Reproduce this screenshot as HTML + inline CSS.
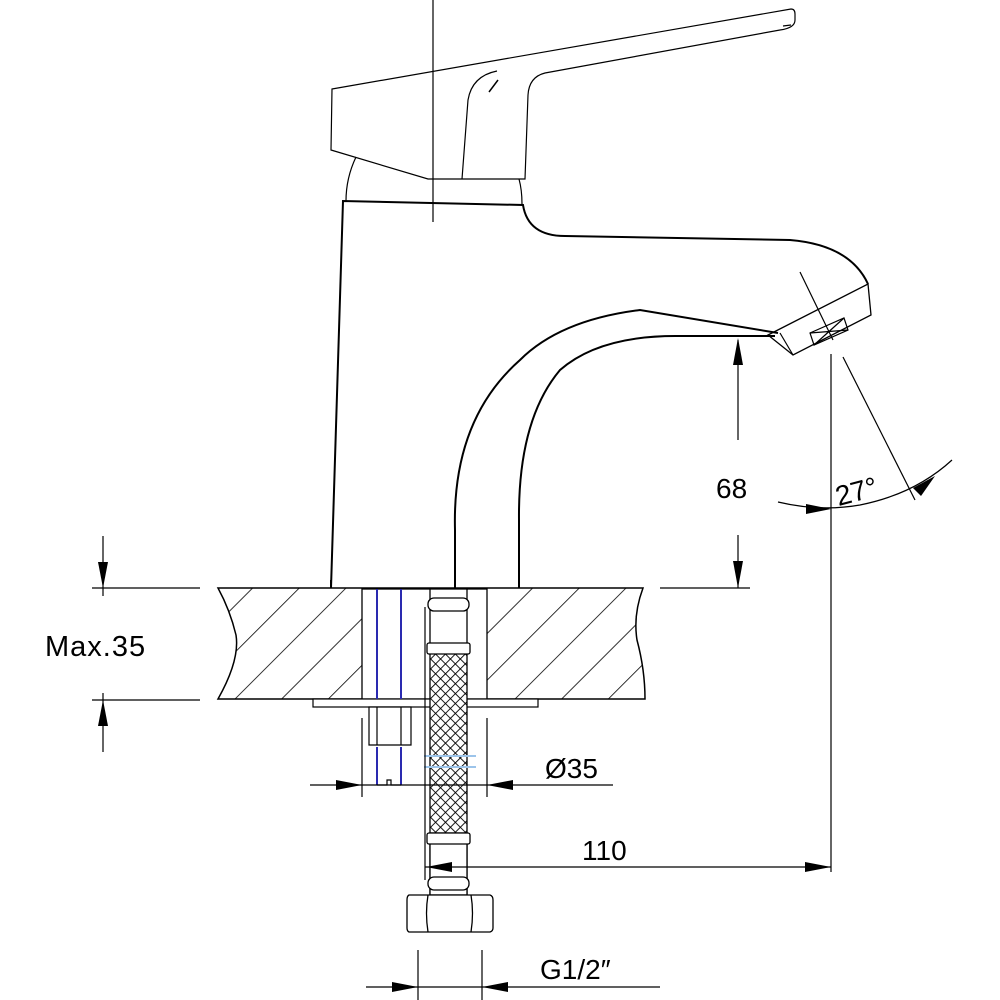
<!DOCTYPE html>
<html><head><meta charset="utf-8"><style>html,body{margin:0;padding:0;background:#fff}svg{display:block}text{font-family:"Liberation Sans",sans-serif;fill:#000}</style></head>
<body>
<svg width="1000" height="1000" viewBox="0 0 1000 1000" xmlns="http://www.w3.org/2000/svg">
<defs>
<pattern id="hatch" patternUnits="userSpaceOnUse" width="33" height="33" patternTransform="rotate(45)">
<line x1="0" y1="0" x2="0" y2="33" stroke="#000" stroke-width="1.6"/>
</pattern>
<pattern id="mesh" patternUnits="userSpaceOnUse" width="7" height="7" patternTransform="rotate(45)">
<rect width="7" height="7" fill="#fff"/>
<line x1="0" y1="0" x2="7" y2="0" stroke="#000" stroke-width="1.8"/>
<line x1="0" y1="0" x2="0" y2="7" stroke="#000" stroke-width="1.8"/>
</pattern>
</defs>
<g fill="none" stroke="#000" stroke-width="1.2">
<path d="M332,89 L791,9 Q795,9 795,14 L795,20 Q795,28 780,30 L545,73 Q529,77 528,95 L525,179 L428,179 L331,150 Z"/>
<path d="M462,179 L468,100 Q472,76 497,71"/>
<path d="M489,92 L498,80" stroke-width="1.5"/>
<path d="M791,25 L783,26"/>
<path d="M356,157 Q346,178 346,201"/>
<path d="M519,179 Q522,190 522,204"/>
</g>
<g fill="none" stroke="#000" stroke-width="2">
<path d="M331,588 L343,201 L523,205 Q528,236 565,236 L790,240 Q850,245 868,284"/>
<path d="M455,588 L455,530 Q452,420 520,360 Q560,320 640,310 L778,333"/>
<path d="M519,588 L519,520 Q518,420 560,370 Q600,335 680,336 L775,336"/>
</g>
<g fill="none" stroke="#000" stroke-width="1.2">
<path d="M768,335 L868,284 L871,315 L793,355 Z" stroke-width="1.3"/>
<path d="M780,333 L793,355"/>
<path d="M810,333 L844,318 L848,330 L814,345 Z"/>
<path d="M810,333 L848,330 M844,318 L814,345"/>
<path d="M800,272 L833,340"/>
<line x1="433" y1="0" x2="433" y2="222"/>
<line x1="831" y1="354" x2="831" y2="872"/>
<line x1="843" y1="357" x2="915" y2="500"/>
<path d="M778,502 Q820,512 860,505 Q915,494 952,460"/>
</g>
<g fill="#000">
<polygon points="831,509 806,504 806,514"/>
<polygon points="935,476 913,488 921,496"/>
</g>
<text x="835" y="500" font-size="28" transform="rotate(-15 860 490)">27°</text>
<g stroke="#000" stroke-width="1.2">
<line x1="738" y1="340" x2="738" y2="440"/>
<line x1="738" y1="535" x2="738" y2="588"/>
<line x1="660" y1="588" x2="750" y2="588"/>
<line x1="727" y1="336" x2="760" y2="336"/>
</g>
<polygon points="738,338 733,365 743,365" fill="#000"/>
<polygon points="738,588 733,561 743,561" fill="#000"/>
<text x="716" y="498" font-size="28">68</text>
<path d="M218,588 L643,588 Q633,615 637,640 Q645,670 645,699 L218,699 Q240,660 236,635 Q230,610 218,588 Z" fill="url(#hatch)" stroke="#000" stroke-width="1.5"/>
<rect x="362" y="589" width="125" height="110" fill="#fff" stroke="#000" stroke-width="1.3"/>
<rect x="313" y="699" width="225" height="8" fill="#fff" stroke="#000" stroke-width="1.2"/>
<line x1="331" y1="580" x2="331" y2="588" stroke="#000" stroke-width="2"/>
<g stroke="#2a2ab0" stroke-width="2">
<line x1="377" y1="589" x2="377" y2="699"/>
<line x1="401" y1="589" x2="401" y2="699"/>
<line x1="377" y1="747" x2="377" y2="785"/>
<line x1="401" y1="747" x2="401" y2="785"/>
</g>
<path d="M377,785 L387,785 L387,780 L391,780 L391,785 L401,785" fill="none" stroke="#000" stroke-width="1.2"/>
<path d="M369,707 L411,707 L411,745 L369,745 Z M377,707 L377,745 M401,707 L401,745" fill="#fff" stroke="#000" stroke-width="1.2"/>
<rect x="430" y="653" width="37" height="254" fill="url(#mesh)" stroke="#000" stroke-width="1.3"/>
<rect x="430" y="589" width="37" height="64" fill="#fff" stroke="#000" stroke-width="1.3"/>
<rect x="428" y="598" width="41" height="13" rx="6" fill="#fff" stroke="#000" stroke-width="1.3"/>
<rect x="427" y="643" width="43" height="11" rx="2" fill="#fff" stroke="#000" stroke-width="1.3"/>
<rect x="430" y="833" width="37" height="62" fill="#fff" stroke="#000" stroke-width="1.3"/>
<rect x="427" y="833" width="43" height="11" rx="2" fill="#fff" stroke="#000" stroke-width="1.3"/>
<rect x="428" y="877" width="41" height="13" rx="6" fill="#fff" stroke="#000" stroke-width="1.3"/>
<line x1="424" y1="756" x2="476" y2="756" stroke="#9cc4ea" stroke-width="2"/>
<line x1="424" y1="767" x2="476" y2="767" stroke="#9cc4ea" stroke-width="2"/>
<line x1="425" y1="607" x2="425" y2="880" stroke="#000" stroke-width="1.2"/>
<path d="M409,895 L490,895 Q493,896 493,900 L493,928 Q493,931 490,932 L409,932 Q407,931 407,928 L407,900 Q407,896 409,895 Z M428,895 Q425,913 428,932 M471,895 Q474,913 471,932 M428,895 L471,895 M428,932 L471,932" fill="#fff" stroke="#000" stroke-width="1.3"/>
<g stroke="#000" stroke-width="1.2">
<line x1="103" y1="536" x2="103" y2="596"/>
<line x1="103" y1="693" x2="103" y2="752"/>
<line x1="92" y1="588" x2="200" y2="588"/>
<line x1="92" y1="700" x2="200" y2="700"/>
</g>
<polygon points="103,588 98,562 108,562" fill="#000"/>
<polygon points="103,700 98,726 108,726" fill="#000"/>
<text x="45" y="656" font-size="29" letter-spacing="1">Max.35</text>
<g stroke="#000" stroke-width="1.2">
<line x1="310" y1="785" x2="613" y2="785"/>
<line x1="362" y1="718" x2="362" y2="797"/>
<line x1="487" y1="718" x2="487" y2="797"/>
</g>
<polygon points="362,785 336,780 336,790" fill="#000"/>
<polygon points="487,785 513,780 513,790" fill="#000"/>
<text x="545" y="778" font-size="28">Ø35</text>
<line x1="425" y1="867" x2="831" y2="867" stroke="#000" stroke-width="1.2"/>
<polygon points="831,867 805,862 805,872" fill="#000"/>
<polygon points="426,867 452,862 452,872" fill="#000"/>
<text x="582" y="860" font-size="28">110</text>
<g stroke="#000" stroke-width="1.2">
<line x1="366" y1="987" x2="660" y2="987"/>
<line x1="418" y1="950" x2="418" y2="1000"/>
<line x1="482" y1="950" x2="482" y2="1000"/>
</g>
<polygon points="418,987 392,982 392,992" fill="#000"/>
<polygon points="482,987 508,982 508,992" fill="#000"/>
<text x="540" y="979" font-size="28">G1/2″</text>
</svg>
</body></html>
